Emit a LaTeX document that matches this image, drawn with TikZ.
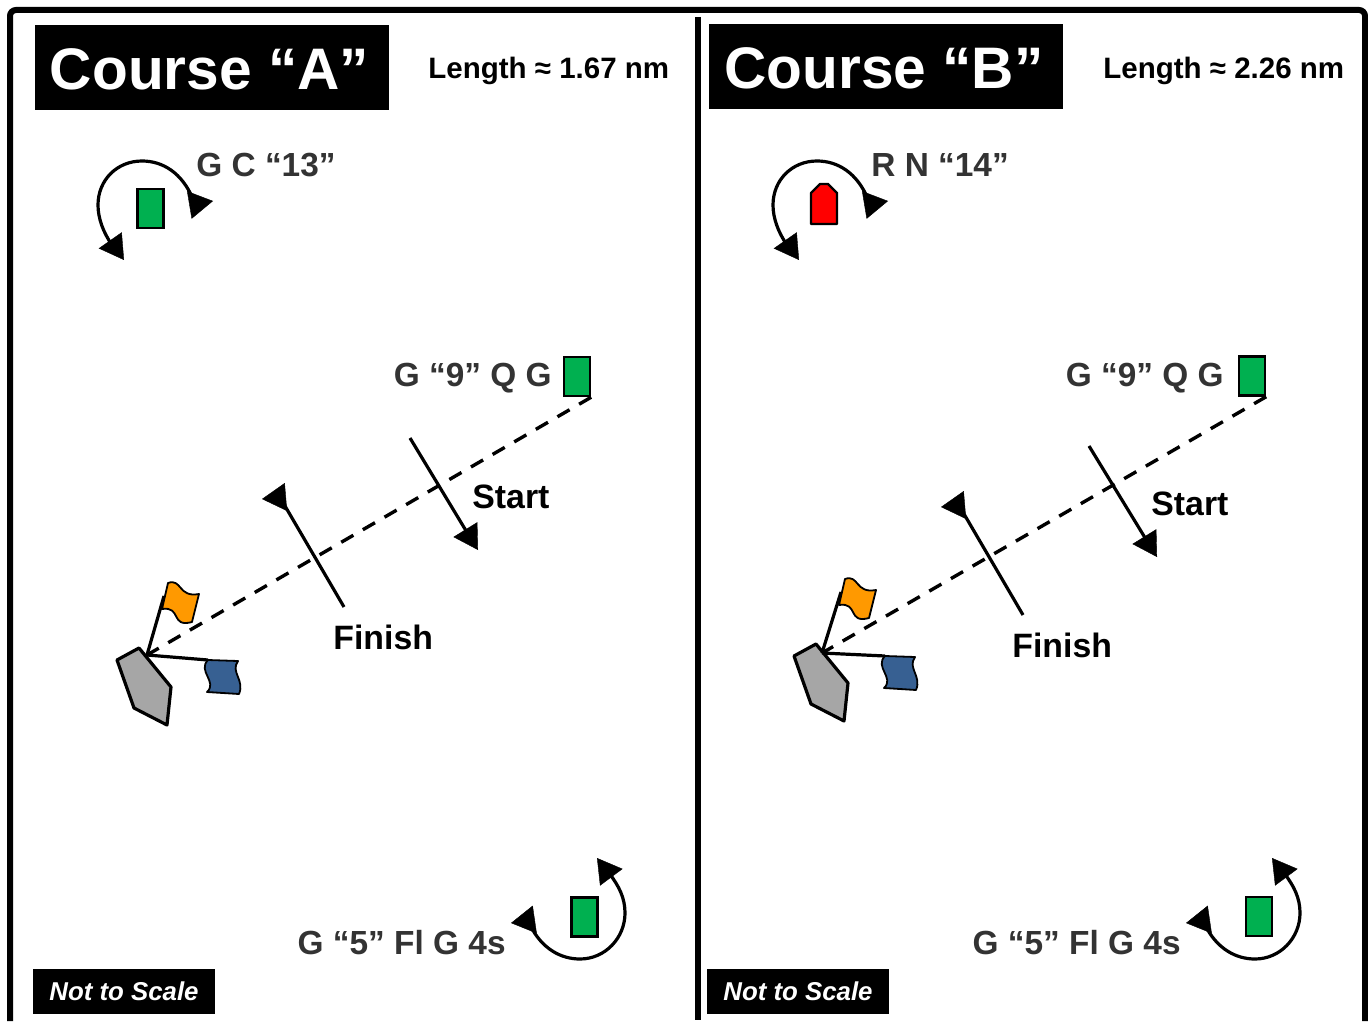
\documentclass[tikz,border=0pt]{standalone}
\usepackage{fontspec}
\setmainfont{Liberation Sans}
\usetikzlibrary{arrows.meta}
\usetikzlibrary{positioning}
\definecolor{markgreen}{HTML}{00B050}
\definecolor{flagorange}{HTML}{FF9900}
\definecolor{flagblue}{HTML}{376092}
\definecolor{boatgray}{HTML}{A6A6A6}
\definecolor{labelgray}{HTML}{333333}
\tikzset{
  titlebox/.style={fill=black,text=white,font=\bfseries\fontsize{29.3}{29.5}\selectfont,inner sep=0pt,text height=22.5pt,text depth=0pt,minimum width=177pt,minimum height=42.5pt},
  notebox/.style={fill=black,text=white,font=\bfseries\itshape\fontsize{12.9}{13}\selectfont,inner sep=0pt,minimum width=91pt,minimum height=22.5pt},
  lengthlabel/.style={font=\bfseries\fontsize{14.75}{15}\selectfont,inner sep=0pt},
  marklabel/.style={text=labelgray,font=\bfseries\fontsize{16.7}{17}\selectfont,inner sep=0pt},
  linelabel/.style={font=\bfseries\fontsize{16.9}{17}\selectfont,inner sep=0pt},
  greenmark/.style={draw,line width=1.2pt,fill=markgreen,inner sep=0pt,minimum width=13pt,minimum height=19.5pt},
  roundline/.style={line width=1.6pt},
  headtip/.style={line width=0.2pt,-{Triangle[length=12pt,width=14pt]}},
  courseline/.style={line width=1.7pt,dash pattern=on 7pt off 5.5pt},
  flagpart/.style={draw,line width=0.9pt,line join=round},
  boatshape/.style={draw,line width=1.6pt,fill=boatgray,line join=round}
}
\begin{document}
\begin{tikzpicture}[x=0.5pt,y=-0.5pt]
  \useasboundingbox (0,0) rectangle (1368,1021);
  \fill[white] (0,0) rectangle (1368,1021);
  \draw[line width=3pt,rounded corners=3pt] (10,1021) -- (10,10) -- (1365,10) -- (1365,1021);
  \draw[line width=2.8pt] (698,17) -- (698,1020);

  \node[titlebox] (titleA) at (211.5,67.5) {Course “A”\kern2pt};
  \node[titlebox] (titleB) at (886,66.5) {Course “B”\kern2pt};
  \node[lengthlabel,anchor=west] (lengthA) at (428,71) {Length ≈ 1.67 nm};
  \node[lengthlabel,anchor=west] (lengthB) at (1103,71) {Length ≈ 2.26 nm};
  \node[notebox] (noteA) at (124,991.5) {Not to Scale};
  \node[notebox] (noteB) at (798,991) {Not to Scale};

  % Course A
  \node[greenmark] (topA) at (150.5,208.5) {};
  \node[marklabel,anchor=west] (topnameA) at (196,165) {G C “13”};
  \coordinate (topstartA) at (193,199);
  \coordinate (topendA) at (112,245);
  \draw[roundline] (topstartA)
    .. controls (182,173) and (163,161) .. (142,161)
    .. controls (117,161) and (98,180) .. (98,205)
    .. controls (98,218) and (103,232) .. (topendA);
  \draw[headtip] (189,205) -- (213,201);
  \draw[headtip] (110,240) -- (124,260);
  \node[greenmark] (nineA) at (577,376.5) {};
  \node[marklabel,anchor=east] (ninenameA) at (552,378) {G “9” Q G};
  \node[greenmark] (fiveA) at (584.5,917) {};
  \node[marklabel,anchor=east] (fivenameA) at (506,943) {G “5” Fl G 4s};
  \coordinate (lowstartA) at (530,925);
  \coordinate (lowendA) at (609,873);
  \draw[roundline] (lowstartA)
    .. controls (542,949) and (561,959) .. (580,959)
    .. controls (605,959) and (625,938) .. (625,913)
    .. controls (625,898) and (619,886) .. (lowendA);
  \draw[headtip] (535,919.5) -- (511,923);
  \draw[headtip] (611.5,877.5) -- (597,858);
  \coordinate (boatA) at (147,655);
  \draw[courseline] (nineA.south east) -- (boatA);
  \coordinate (startinA) at (410,438);
  \coordinate (startoutA) at (468,534);
  \draw[roundline] (startinA) -- (startoutA);
  \draw[headtip] (465,529) -- (478,550);
  \node[linelabel,anchor=west] (startA) at (472,497) {Start};
  \coordinate (finishinA) at (344,607);
  \coordinate (finishoutA) at (285,506);
  \draw[roundline] (finishinA) -- (finishoutA);
  \draw[headtip] (286,497) -- (262,499);
  \node[linelabel,anchor=west] (finishA) at (333,637) {Finish};
  \draw[boatshape] (117,660) -- (139,648) -- (171,687) -- (167,725) -- (134,708) -- cycle;
  \coordinate (orangeA) at (164,596);
  \coordinate (blueA) at (208,660);
  \draw[line width=1.6pt] (boatA) -- (orangeA);
  \draw[line width=1.6pt] (boatA) -- (blueA);
  \draw[flagpart,fill=flagorange] (168,583) .. controls (182,578) and (178,598) .. (199,594)
    -- (192,622) .. controls (170,628) and (182,606) .. (162,609) -- cycle;
  \draw[flagpart,fill=flagblue] (208,660) -- (238,661) .. controls (230,672) and (245,680) .. (239,694)
    -- (207,692) .. controls (218,682) and (197,671) .. (208,660) -- cycle;

  % Course B
  \draw[line width=1.2pt,fill=red,line join=round] (811,193) -- (820,184) -- (828,184) -- (837,193) -- (837,224) -- (811,224) -- cycle;
  \node[marklabel,anchor=west] (topnameB) at (871,165) {R N “14”};
  \coordinate (topstartB) at (868,199);
  \coordinate (topendB) at (787,245);
  \draw[roundline] (topstartB)
    .. controls (857,173) and (838,161) .. (817,161)
    .. controls (792,161) and (773,180) .. (773,205)
    .. controls (773,218) and (778,232) .. (topendB);
  \draw[headtip] (864,205) -- (888,201);
  \draw[headtip] (785,240) -- (799,260);
  \node[greenmark] (nineB) at (1252,376) {};
  \node[marklabel,anchor=east] (ninenameB) at (1224,378) {G “9” Q G};
  \node[greenmark] (fiveB) at (1259,916.5) {};
  \node[marklabel,anchor=east] (fivenameB) at (1181,943) {G “5” Fl G 4s};
  \coordinate (lowstartB) at (1205,925);
  \coordinate (lowendB) at (1284,873);
  \draw[roundline] (lowstartB)
    .. controls (1217,949) and (1236,959) .. (1255,959)
    .. controls (1280,959) and (1300,938) .. (1300,913)
    .. controls (1300,898) and (1294,886) .. (lowendB);
  \draw[headtip] (1210,919.5) -- (1186,923);
  \draw[headtip] (1286.5,877.5) -- (1272,858);
  \coordinate (boatB) at (822,653);
  \draw[courseline] (nineB.south east) -- (boatB);
  \coordinate (startinB) at (1089,446);
  \coordinate (startoutB) at (1147,541);
  \draw[roundline] (startinB) -- (startoutB);
  \draw[headtip] (1144,536) -- (1157,557);
  \node[linelabel,anchor=west] (startB) at (1151,504) {Start};
  \coordinate (finishinB) at (1023,615);
  \coordinate (finishoutB) at (964,514);
  \draw[roundline] (finishinB) -- (finishoutB);
  \draw[headtip] (965,505) -- (941,507);
  \node[linelabel,anchor=west] (finishB) at (1012,645) {Finish};
  \begin{scope}[shift={(677,-4)}]
    \draw[boatshape] (117,660) -- (139,648) -- (171,687) -- (167,725) -- (134,708) -- cycle;
    \coordinate (orangeB) at (164,596);
    \coordinate (blueB) at (208,660);
    \draw[line width=1.6pt] (boatB) -- (orangeB);
    \draw[line width=1.6pt] (boatB) -- (blueB);
    \draw[flagpart,fill=flagorange] (168,583) .. controls (182,578) and (178,598) .. (199,594)
      -- (192,622) .. controls (170,628) and (182,606) .. (162,609) -- cycle;
    \draw[flagpart,fill=flagblue] (208,660) -- (238,661) .. controls (230,672) and (245,680) .. (239,694)
      -- (207,692) .. controls (218,682) and (197,671) .. (208,660) -- cycle;
  \end{scope}
\end{tikzpicture}
\end{document}
